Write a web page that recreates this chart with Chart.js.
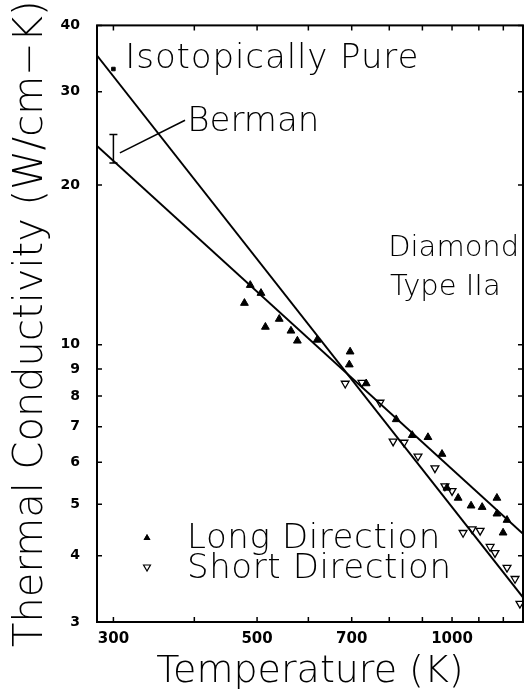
<!DOCTYPE html>
<html>
<head>
<meta charset="utf-8">
<script src="https://cdn.jsdelivr.net/npm/chart.js@4.4.0/dist/chart.umd.min.js"></script>
<style>
  html, body { margin: 0; padding: 0; background: #fff; }
</style>
</head>
<body>
<canvas id="myChart" width="525" height="694"></canvas>
<script>
// measured points, long direction (filled triangles)
const longT = [478, 488, 507, 515, 541, 564, 577, 619, 694, 696, 737, 820, 868, 918, 965, 982, 1022, 1070, 1113, 1173, 1173, 1216, 1199];
const longK = [11.98, 12.95, 12.51, 10.8, 11.18, 10.62, 10.17, 10.21, 9.17, 9.7, 8.45, 7.23, 6.75, 6.69, 6.22, 5.37, 5.14, 4.97, 4.94, 5.14, 4.8, 4.67, 4.42];
// short direction (open triangles)
const shortT = [684, 726, 774, 811, 843, 886, 941, 975, 1000, 1040, 1074, 1105, 1145, 1165, 1216, 1251, 1273];
const shortK = [8.45, 8.48, 7.78, 6.57, 6.54, 6.16, 5.85, 5.41, 5.3, 4.42, 4.49, 4.46, 4.16, 4.05, 3.8, 3.62, 3.25];
// fitted lines
const pureT = [283, 1287];
const pureK = [35.1, 3.34];
const bermanT = [283, 1287];
const bermanK = [23.7, 4.4];
// isotopically pure value and Berman error bar at 300 K
const pureDotT = [300];
const pureDotK = [33.1];
const barT = [300, 300];
const barK = [22.0, 24.9];
const leaderT = [307, 387];
const leaderK = [23.0, 26.5];
// axes
const xTicks = [300, 400, 500, 600, 700, 800, 900, 1000, 1100, 1200];
const xLabels = [300, 500, 700, 1000];
const yTicks = [3, 4, 5, 6, 7, 8, 9, 10, 20, 30, 40];

const pts = (xs, ys) => xs.map((x, i) => ({ x: x, y: ys[i] }));

const notes = [
    { text: 'Isotopically Pure', t: 313, k: 33.2, size: 34, sp: 0.9 },
    { text: 'Berman', t: 390, k: 25.3, size: 34, sp: 0 },
    { text: 'Diamond', t: 797, k: 14.7, size: 29, sp: 0 },
    { text: 'Type IIa', t: 802, k: 12.4, size: 29, sp: 0 }
];
const FONT = "'DejaVu Sans', sans-serif";

const frame = {
    id: 'frame',
    afterDatasetsDraw(chart) {
        const c = chart.ctx, a = chart.chartArea;
        const xs = chart.scales.x, ys = chart.scales.y;
        c.save();
        c.strokeStyle = '#000';
        c.lineWidth = 2;
        c.strokeRect(a.left, a.top, a.right - a.left, a.bottom - a.top);
        c.lineWidth = 1.5;
        c.beginPath();
        xTicks.forEach(v => {
            const px = xs.getPixelForValue(v);
            c.moveTo(px, a.bottom); c.lineTo(px, a.bottom - 5);
            c.moveTo(px, a.top); c.lineTo(px, a.top + 5);
        });
        yTicks.forEach(v => {
            const py = ys.getPixelForValue(v);
            c.moveTo(a.left, py); c.lineTo(a.left + 5, py);
            c.moveTo(a.right, py); c.lineTo(a.right - 5, py);
        });
        c.stroke();
        c.restore();
    },
    afterDraw(chart) {
        const c = chart.ctx, a = chart.chartArea;
        const xs = chart.scales.x, ys = chart.scales.y;
        c.save();
        c.fillStyle = '#000';
        c.textBaseline = 'alphabetic';
        c.textAlign = 'left';
        notes.forEach(n => {
            c.font = '300 ' + n.size + 'px ' + FONT;
            c.letterSpacing = n.sp + 'px';
            c.fillText(n.text, xs.getPixelForValue(n.t), ys.getPixelForValue(n.k));
        });
        // legend
        c.font = '300 34px ' + FONT;
        c.letterSpacing = '0.6px';
        c.fillText('Long Direction', a.left + 90, a.bottom - 74);
        c.fillText('Short Direction', a.left + 90, a.bottom - 44);
        c.letterSpacing = '0px';
        c.lineWidth = 1.2;
        c.strokeStyle = '#000';
        Chart.helpers.drawPoint(c, { pointStyle: 'triangle', radius: 4, rotation: 0 }, a.left + 50, a.bottom - 84);
        c.fill();
        c.fillStyle = '#fff';
        Chart.helpers.drawPoint(c, { pointStyle: 'triangle', radius: 4, rotation: 180, borderWidth: 1.2 }, a.left + 50, a.bottom - 55);
        c.restore();
    }
};

Chart.defaults.font.family = FONT;
Chart.defaults.color = '#000';

const ctx = document.getElementById('myChart');
const lineStyle = { showLine: true, pointRadius: 0, borderColor: '#000', borderWidth: 2, fill: false };

new Chart(ctx, {
    type: 'scatter',
    data: {
        datasets: [
            Object.assign({ data: pts(pureT, pureK) }, lineStyle),
            Object.assign({ data: pts(bermanT, bermanK) }, lineStyle),
            Object.assign({ data: pts(leaderT, leaderK) }, lineStyle, { borderWidth: 1.5 }),
            { data: pts(barT, barK), showLine: true, borderColor: '#000', borderWidth: 1.5,
              pointStyle: 'line', pointRadius: 4, pointBorderWidth: 1.5, pointBorderColor: '#000' },
            { data: pts(pureDotT, pureDotK), pointStyle: 'rect', pointRadius: 2.5,
              backgroundColor: '#000', borderColor: '#000' },
            { label: 'Long Direction', data: pts(longT, longK), pointStyle: 'triangle', pointRadius: 4.5,
              backgroundColor: '#000', borderColor: '#000', borderWidth: 1 },
            { label: 'Short Direction', data: pts(shortT, shortK), pointStyle: 'triangle', pointRadius: 4.5,
              rotation: 180, backgroundColor: '#fff', borderColor: '#000', borderWidth: 1.3 }
        ]
    },
    options: {
        responsive: false,
        animation: false,
        devicePixelRatio: 1,
        layout: { padding: { top: 22, right: 2, left: 0, bottom: 0 }, autoPadding: false },
        plugins: { legend: { display: false }, tooltip: { enabled: false } },
        scales: {
            x: {
                type: 'logarithmic', min: 283, max: 1287,
                afterBuildTicks: s => { s.ticks = xTicks.map(v => ({ value: v })); },
                afterFit: s => { s.height = 72; },
                ticks: {
                    autoSkip: false, maxRotation: 0, padding: 8,
                    font: { size: 15, weight: 'bold' },
                    callback: v => xLabels.includes(v) ? String(v) : ''
                },
                grid: { display: false, drawTicks: false },
                border: { display: false },
                title: { display: true, text: 'Temperature (K)', font: { size: 38, weight: '300' }, padding: { top: 0, bottom: -1 } }
            },
            y: {
                type: 'logarithmic', min: 3, max: 40,
                afterBuildTicks: s => { s.ticks = yTicks.map(v => ({ value: v })); },
                afterFit: s => { s.width = 97; },
                ticks: {
                    autoSkip: false, padding: 17,
                    font: { size: 14, weight: 'bold' },
                    callback: v => String(v)
                },
                grid: { display: false, drawTicks: false },
                border: { display: false },
                title: { display: true, text: 'Thermal Conductivity (W/cm\u2212K)', font: { size: 40, weight: '300' }, padding: { top: 8, bottom: 0 } }
            }
        }
    },
    plugins: [frame]
});
</script>
</body>
</html>
